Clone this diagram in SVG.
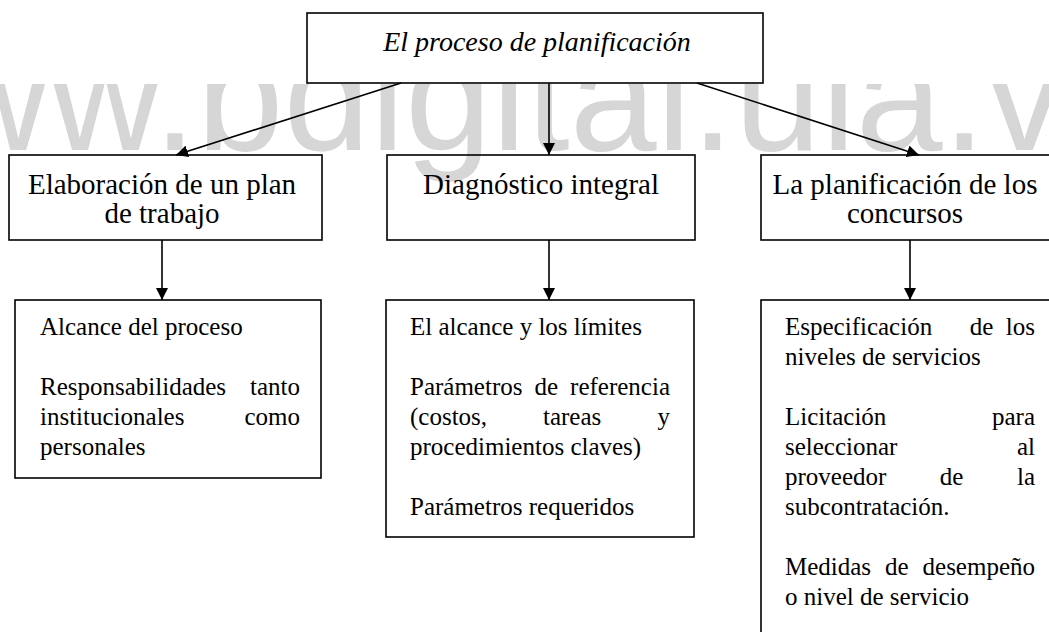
<svg xmlns="http://www.w3.org/2000/svg" width="1049" height="632" viewBox="0 0 1049 632">
<style>
.box{fill:none;stroke:#000;stroke-width:1.6}
.t{font-family:"Liberation Serif","Times New Roman",serif;font-size:25px;fill:#000}
.e{text-anchor:end}
.h{font-family:"Liberation Serif","Times New Roman",serif;font-size:29px;fill:#000;text-anchor:middle}
.title{font-family:"Liberation Serif","Times New Roman",serif;font-size:28px;font-style:italic;fill:#000;text-anchor:middle}
.wm{font-family:"Liberation Sans",Arial,sans-serif;font-size:156px;fill:#d6d6d6}
.c{stroke:#000;stroke-width:1.6;fill:none;marker-end:url(#ah)}
</style>
<defs>
<marker id="ah" viewBox="0 0 12 12" refX="12" refY="6" markerWidth="12" markerHeight="12" markerUnits="userSpaceOnUse" orient="auto">
<path d="M0,0 L12,6 L0,12 Z" fill="#000"/>
</marker>
<clipPath id="wmclip"><rect x="0" y="84" width="1049" height="548"/></clipPath>
</defs>
<rect width="1049" height="632" fill="#fff"/>
<g clip-path="url(#wmclip)">
<text class="wm" x="-176" y="150">www.bdigital.ula.ve</text>
</g>

<g id="connectors">
<line class="c" x1="401" y1="83" x2="176" y2="155"/>
<line class="c" x1="549" y1="83" x2="549" y2="155"/>
<line class="c" x1="697" y1="83" x2="919" y2="155"/>
<line class="c" x1="162" y1="240" x2="162" y2="300"/>
<line class="c" x1="549" y1="240" x2="549" y2="300"/>
<line class="c" x1="910" y1="240" x2="910" y2="300"/>
</g>

<g id="root">
<rect class="box" x="307" y="13" width="456" height="70"/>
<text class="title" x="537" y="51">El proceso de planificación</text>
</g>

<g id="plan">
<rect class="box" x="9" y="155" width="313" height="85"/>
<text class="h" x="162" y="194">Elaboración de un plan</text>
<text class="h" x="162" y="223">de trabajo</text>
</g>

<g id="diagnostico">
<rect class="box" x="387" y="155" width="308" height="85"/>
<text class="h" x="541" y="194">Diagnóstico integral</text>
</g>

<g id="concursos">
<rect class="box" x="761" y="155" width="300" height="85"/>
<text class="h" x="905" y="194">La planificación de los</text>
<text class="h" x="905" y="223">concursos</text>
</g>

<g id="plan-detalle">
<rect class="box" x="15" y="300" width="306" height="178"/>
<text class="t" x="40" y="335">Alcance del proceso</text>
<text class="t" x="40" y="395">Responsabilidades</text>
<text class="t e" x="300" y="395">tanto</text>
<text class="t" x="40" y="425">institucionales</text>
<text class="t e" x="300" y="425">como</text>
<text class="t" x="40" y="455">personales</text>
</g>

<g id="diagnostico-detalle">
<rect class="box" x="386" y="300" width="308" height="237"/>
<text class="t" x="410" y="335">El alcance y los límites</text>
<text class="t" x="410" y="395">Parámetros</text>
<text class="t" x="534.5" y="395">de</text>
<text class="t e" x="670" y="395">referencia</text>
<text class="t" x="410" y="425">(costos,</text>
<text class="t" x="543" y="425">tareas</text>
<text class="t e" x="670" y="425">y</text>
<text class="t" x="410" y="455">procedimientos claves)</text>
<text class="t" x="410" y="515">Parámetros requeridos</text>
</g>

<g id="concursos-detalle">
<rect class="box" x="761" y="300" width="300" height="345"/>
<text class="t" x="785" y="335">Especificación</text>
<text class="t" x="969.7" y="335">de</text>
<text class="t e" x="1035" y="335">los</text>
<text class="t" x="785" y="365">niveles de servicios</text>
<text class="t" x="785" y="425">Licitación</text>
<text class="t e" x="1035" y="425">para</text>
<text class="t" x="785" y="455">seleccionar</text>
<text class="t e" x="1035" y="455">al</text>
<text class="t" x="785" y="485">proveedor</text>
<text class="t" x="939.7" y="485">de</text>
<text class="t e" x="1035" y="485">la</text>
<text class="t" x="785" y="515">subcontratación.</text>
<text class="t" x="785" y="575">Medidas</text>
<text class="t" x="885" y="575">de</text>
<text class="t e" x="1035" y="575">desempeño</text>
<text class="t" x="785" y="605">o nivel de servicio</text>
</g>
</svg>
